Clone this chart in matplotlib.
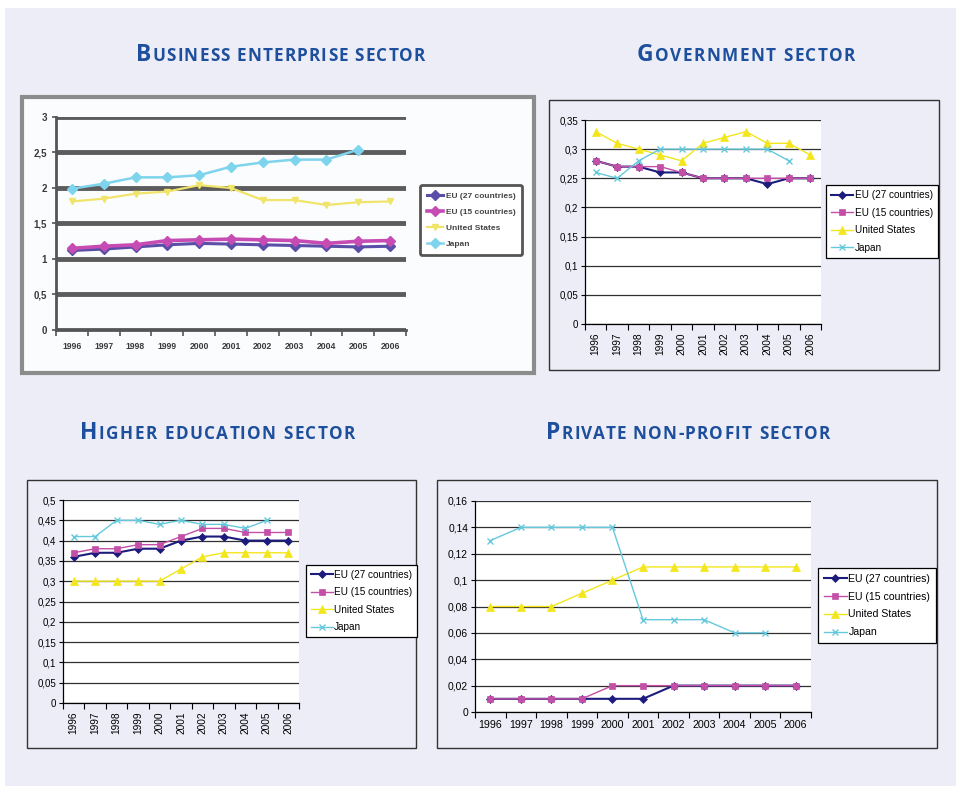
import numpy as np
import matplotlib
matplotlib.use("Agg")
import matplotlib.pyplot as plt
from matplotlib.patches import Rectangle
from matplotlib.font_manager import FontProperties
from matplotlib.ticker import FuncFormatter, MultipleLocator

plt.rcParams["font.family"] = ["Liberation Sans", "DejaVu Sans"]

W, H = 956, 786

years = ["1996", "1997", "1998", "1999", "2000", "2001", "2002", "2003", "2004", "2005", "2006"]
series_names = ["EU (27 countries)", "EU (15 countries)", "United States", "Japan"]

# R&D expenditure as % of GDP, per sector
business_eu27 = [1.12, 1.14, 1.17, 1.20, 1.22, 1.21, 1.20, 1.19, 1.18, 1.17, 1.18]
business_eu15 = [1.15, 1.18, 1.20, 1.26, 1.27, 1.28, 1.27, 1.26, 1.22, 1.25, 1.26]
business_us = [1.81, 1.85, 1.92, 1.95, 2.04, 2.00, 1.83, 1.83, 1.76, 1.80, 1.81]
business_jp = [1.99, 2.06, 2.15, 2.15, 2.18, 2.30, 2.36, 2.40, 2.40, 2.54, np.nan]

gov_eu27 = [0.28, 0.27, 0.27, 0.26, 0.26, 0.25, 0.25, 0.25, 0.24, 0.25, 0.25]
gov_eu15 = [0.28, 0.27, 0.27, 0.27, 0.26, 0.25, 0.25, 0.25, 0.25, 0.25, 0.25]
gov_us = [0.33, 0.31, 0.30, 0.29, 0.28, 0.31, 0.32, 0.33, 0.31, 0.31, 0.29]
gov_jp = [0.26, 0.25, 0.28, 0.30, 0.30, 0.30, 0.30, 0.30, 0.30, 0.28, np.nan]

higher_eu27 = [0.36, 0.37, 0.37, 0.38, 0.38, 0.40, 0.41, 0.41, 0.40, 0.40, 0.40]
higher_eu15 = [0.37, 0.38, 0.38, 0.39, 0.39, 0.41, 0.43, 0.43, 0.42, 0.42, 0.42]
higher_us = [0.30, 0.30, 0.30, 0.30, 0.30, 0.33, 0.36, 0.37, 0.37, 0.37, 0.37]
higher_jp = [0.41, 0.41, 0.45, 0.45, 0.44, 0.45, 0.44, 0.44, 0.43, 0.45, np.nan]

private_eu27 = [0.01, 0.01, 0.01, 0.01, 0.01, 0.01, 0.02, 0.02, 0.02, 0.02, 0.02]
private_eu15 = [0.01, 0.01, 0.01, 0.01, 0.02, 0.02, 0.02, 0.02, 0.02, 0.02, 0.02]
private_us = [0.08, 0.08, 0.08, 0.09, 0.10, 0.11, 0.11, 0.11, 0.11, 0.11, 0.11]
private_jp = [0.13, 0.14, 0.14, 0.14, 0.14, 0.07, 0.07, 0.07, 0.06, 0.06, np.nan]

colors = ["#1c1c7c", "#c44fa6", "#f3e61c", "#66c8dc"]
markers = ["D", "s", "^", "x"]
msizes = [4.0, 4.2, 5.2, 4.8]
lwidths = [1.5, 1.0, 1.0, 1.0]

BG = "#ecedf7"
TITLE_COLOR = "#1d4f9c"


def px_axes(fig, left, top, right, bottom):
    return fig.add_axes([left / W, 1 - bottom / H, (right - left) / W, (bottom - top) / H])


def px_box(fig, left, top, right, bottom, **kw):
    rect = Rectangle((left / W, 1 - bottom / H), (right - left) / W, (bottom - top) / H,
                     transform=fig.transFigure, **kw)
    fig.add_artist(rect)
    return rect


def comma(v, pos):
    return ("%g" % v).replace(".", ",")


def smallcaps_title(fig, left, right, y_base, text, big=16.5, small=12.3):
    # letter-spaced small caps: first letter large, the rest as smaller capitals
    r = fig.canvas.get_renderer()
    fp_big = FontProperties(family="Open Sans", weight="bold", size=big)
    fp_small = FontProperties(family="Open Sans", weight="bold", size=small)

    def width(s, fp):
        return r.get_text_width_height_descent(s, fp, ismath=False)[0]

    rest = text[1:].upper()
    w_big = width(text[0] + "I", fp_big) - width("I", fp_big)
    w_i = width("I", fp_small)
    offsets = [0.0] + [w_big + (width(rest[:k] + "I", fp_small) - w_i if k else 0.0)
                       for k in range(len(rest))]
    natural = w_big + width(rest, fp_small)
    track = ((right - left) - natural) / (len(text) - 1)
    for i, ch in enumerate(text[0] + rest):
        if ch == " ":
            continue
        fig.text((left + offsets[i] + track * i) / W, 1 - y_base / H, ch,
                 fontproperties=fp_big if i == 0 else fp_small,
                 color=TITLE_COLOR, va="baseline", ha="left")


def excel_chart(fig, ax_px, legend_px, data, ymax, ystep, rotate, tick_fs=7.0, leg_fs=7.2):
    ax = px_axes(fig, *ax_px)
    ax.set_facecolor("white")
    x = np.arange(len(years))
    for vals, name, c, m, ms, lw in zip(data, series_names, colors, markers, msizes, lwidths):
        ax.plot(x, vals, color=c, marker=m, markersize=ms, linewidth=lw,
                markeredgewidth=1.0 if m == "x" else 0.5, label=name, zorder=3)
    ax.set_xlim(-0.5, len(years) - 0.5)
    ax.set_ylim(0, ymax)
    ax.yaxis.set_major_locator(MultipleLocator(ystep))
    ax.yaxis.set_major_formatter(FuncFormatter(comma))
    ax.set_xticks(x)
    ax.set_xticklabels(years, rotation=90 if rotate else 0)
    ax.set_xticks(np.arange(len(years) + 1) - 0.5, minor=True)
    ax.tick_params(axis="x", which="major", length=0, labelsize=tick_fs + 0.3, pad=6)
    ax.tick_params(axis="x", which="minor", length=4, width=0.8, direction="out")
    ax.tick_params(axis="y", length=3, width=0.8, labelsize=tick_fs, pad=2)
    ax.grid(axis="y", color="#303030", linewidth=0.9)
    ax.set_axisbelow(True)
    for s in ["top", "right"]:
        ax.spines[s].set_visible(False)
    for s in ["left", "bottom"]:
        ax.spines[s].set_linewidth(0.9)
        ax.spines[s].set_zorder(4)
    l, t, r, b = legend_px
    leg = fig.legend(*ax.get_legend_handles_labels(), loc="center",
                     bbox_to_anchor=((l + r) / 2 / W, 1 - (t + b) / 2 / H),
                     fontsize=leg_fs, frameon=True, fancybox=False, framealpha=1,
                     edgecolor="black", handlelength=2.2, handletextpad=0.15,
                     labelspacing=0.75, borderpad=0.5, borderaxespad=0)
    leg.get_frame().set_linewidth(0.9)
    return ax


fig = plt.figure(figsize=(W / 100, H / 100), dpi=100, facecolor="white")
px_box(fig, 5, 8, W, H, facecolor=BG, edgecolor="none", zorder=-10)

# chart frames
px_box(fig, 549, 100, 939, 370, facecolor="none", edgecolor="#333333", linewidth=1.0, zorder=-5)
px_box(fig, 27, 480, 416, 748, facecolor="none", edgecolor="#333333", linewidth=1.0, zorder=-5)
px_box(fig, 437, 480, 937, 748, facecolor="none", edgecolor="#333333", linewidth=1.0, zorder=-5)

# business enterprise sector: a blurred pasted chart with heavy gridlines
px_box(fig, 22, 97, 534, 373, facecolor="#fbfcfe", edgecolor="#8c8c8c", linewidth=3.0, zorder=-5)
axb = px_axes(fig, 56, 117, 406, 330)
axb.set_facecolor("#fbfcfe")
xb = np.arange(len(years))
bdata = [business_eu27, business_eu15, business_us, business_jp]
bcolors = ["#5a4ea8", "#c64cb4", "#f0e46a", "#7ed4ec"]
blw = [2.2, 2.6, 1.6, 1.8]
for vals, name, c, m, lw in zip(bdata, series_names, bcolors, ["D", "D", "v", "D"], blw):
    axb.plot(xb, vals, color=c, marker=m, markersize=5, linewidth=lw, label=name, zorder=3)
axb.set_xlim(-0.5, len(years) - 0.5)
axb.set_ylim(0, 3)
axb.yaxis.set_major_locator(MultipleLocator(0.5))
axb.yaxis.set_major_formatter(FuncFormatter(comma))
axb.set_xticks(xb)
axb.set_xticklabels(years)
axb.set_xticks(np.arange(len(years) + 1) - 0.5, minor=True)
axb.tick_params(axis="x", which="major", length=0, labelsize=6.2, pad=9, labelcolor="#3a3a3a")
axb.tick_params(axis="x", which="minor", length=4, width=1.2, color="#555555")
axb.tick_params(axis="y", length=3, width=1.2, color="#555555", labelsize=7, labelcolor="#3a3a3a")
for lab in axb.get_xticklabels() + axb.get_yticklabels():
    lab.set_fontweight("bold")
axb.grid(axis="y", color="#5c5c5c", linewidth=3.5)
axb.set_axisbelow(True)
for s in ["top", "right"]:
    axb.spines[s].set_visible(False)
for s in ["left", "bottom"]:
    axb.spines[s].set_linewidth(2.0)
    axb.spines[s].set_color("#555555")
legb = fig.legend(*axb.get_legend_handles_labels(), loc="center",
                  bbox_to_anchor=((412 + 530) / 2 / W, 1 - (175 + 265) / 2 / H),
                  fontsize=6, frameon=True, fancybox=True, framealpha=1, edgecolor="#555555",
                  handlelength=2.0, handletextpad=0.3, labelspacing=1.0, borderpad=0.8,
                  borderaxespad=0)
legb.get_frame().set_linewidth(2.0)
for t in legb.get_texts():
    t.set_color("#444444")
    t.set_fontweight("bold")

excel_chart(fig, (585, 120, 821, 324), (828, 183, 936, 260),
            [gov_eu27, gov_eu15, gov_us, gov_jp], 0.35, 0.05, rotate=True)
excel_chart(fig, (63, 500, 299, 703), (307, 562, 416, 640),
            [higher_eu27, higher_eu15, higher_us, higher_jp], 0.5, 0.05, rotate=True)
excel_chart(fig, (475, 501, 811, 712), (820, 567, 934, 644),
            [private_eu27, private_eu15, private_us, private_jp], 0.16, 0.02, rotate=False,
            tick_fs=7.4, leg_fs=7.6)

smallcaps_title(fig, 136, 425, 61, "Business enterprise sector")
smallcaps_title(fig, 637, 855, 61, "Government sector")
smallcaps_title(fig, 80, 355, 439, "Higher education sector")
smallcaps_title(fig, 546, 830, 439, "Private non-profit sector")

fig.savefig("out.png", dpi=100, facecolor=fig.get_facecolor())
